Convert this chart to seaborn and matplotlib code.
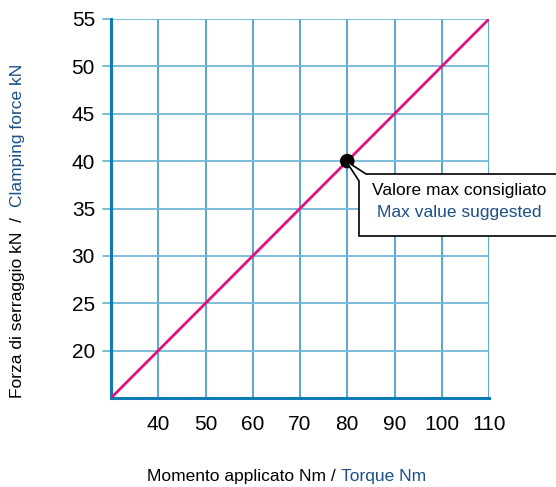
import numpy as np
import pandas as pd
import matplotlib
matplotlib.use("Agg")
import matplotlib.pyplot as plt
from matplotlib.patches import Polygon
import seaborn as sns

# data
torque_nm   = [30, 110]
force_kn    = [15, 55]
max_torque  = [80]
max_force   = [40]
x_ticks     = [40, 50, 60, 70, 80, 90, 100, 110]
y_ticks     = [20, 25, 30, 35, 40, 45, 50, 55]

PINK   = "#e2127c"
NAVY   = "#1b4f86"
SPINE  = "#0e7bb4"
VGRID  = "#2a8fc2"
HGRID  = "#72b6d8"

sns.set_theme(style="white")
plt.rcParams["font.family"] = ["Liberation Sans", "DejaVu Sans"]

W, H = 556, 487
fig = plt.figure(figsize=(W / 100, H / 100), dpi=100)
ax = fig.add_axes([111 / W, 1 - 398 / H, (489 - 111) / W, (398 - 19) / H])

df = pd.DataFrame({"torque": torque_nm, "force": force_kn})
sns.lineplot(data=df, x="torque", y="force", color=PINK, lw=2, ax=ax, zorder=4)
sns.scatterplot(x=max_torque, y=max_force, color="black", s=110, ax=ax,
                zorder=5, edgecolor="none")

ax.set_xlim(30, 110)
ax.set_ylim(15, 55)
ax.set_xticks(x_ticks)
ax.set_yticks(y_ticks)
for v in x_ticks:
    ax.axvline(v, color=VGRID, lw=1.1, zorder=1)
for v in y_ticks:
    ax.axhline(v, color=HGRID, lw=1.3, zorder=1)
    # grid lines run a bit past the left axis
    ax.plot([-0.022, 0], [(v - 15) / 40] * 2, transform=ax.transAxes,
            color=HGRID, lw=1.3, clip_on=False)

for s in ["top", "right"]:
    ax.spines[s].set_visible(False)
for s in ["left", "bottom"]:
    ax.spines[s].set_color(SPINE)
    ax.spines[s].set_linewidth(2.2)
    ax.spines[s].set_zorder(3)

ax.tick_params(axis="x", length=0, pad=12, labelsize=15, colors="black")
ax.tick_params(axis="y", length=0, pad=11.5, labelsize=15, colors="black")
ax.set_xlabel("")
ax.set_ylabel("")

# callout box
pts = [(346, 161), (366, 174), (560, 174), (560, 236), (359, 236), (359, 181)]
poly = Polygon([(x / W, 1 - y / H) for x, y in pts], closed=True,
               transform=fig.transFigure, facecolor="white", edgecolor="black",
               lw=1.2, zorder=6, clip_on=False)
fig.add_artist(poly)
fig.text(459 / W, 1 - 191 / H, "Valore max consigliato", ha="center", va="center",
         fontsize=12.5, color="black", zorder=7)
fig.text(459 / W, 1 - 213 / H, "Max value suggested", ha="center", va="center",
         fontsize=12.5, color=NAVY, zorder=7)

# two-colour axis labels
fig.canvas.draw()
r = fig.canvas.get_renderer()
t1 = fig.text(147 / W, 1 - 476 / H, "Momento applicato Nm / ", ha="left", va="center",
              fontsize=12.5, color="black")
bb = t1.get_window_extent(r)
fig.text(bb.x1 / W, 1 - 476 / H, "Torque Nm", ha="left", va="center",
         fontsize=12.5, color=NAVY)

t2 = fig.text(18 / W, 1 - 398 / H, "Forza di serraggio kN  /  ", rotation=90,
              ha="center", va="bottom", fontsize=12.5, color="black")
bb = t2.get_window_extent(r)
fig.text(18 / W, bb.y1 / H, "Clamping force kN", rotation=90,
         ha="center", va="bottom", fontsize=12.5, color=NAVY)

fig.savefig("out.png", dpi=100)
